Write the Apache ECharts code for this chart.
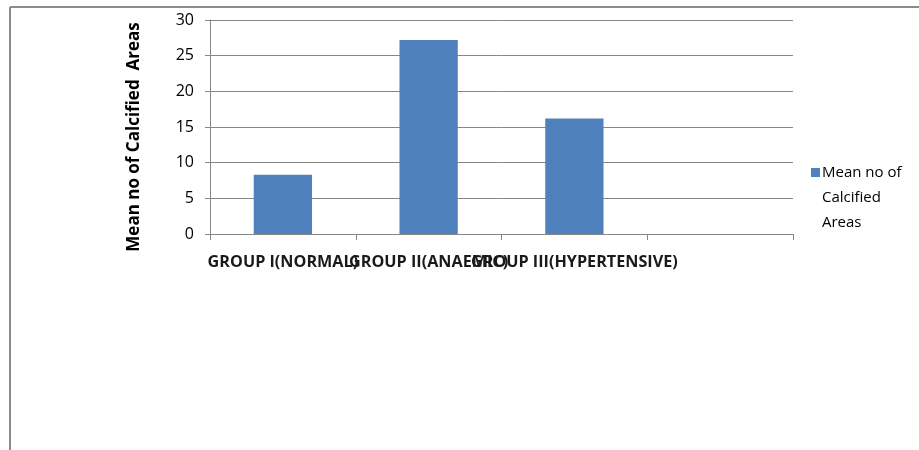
<!DOCTYPE html>
<html>
<head>
<meta charset="utf-8">
<script src="https://cdn.jsdelivr.net/npm/echarts@6/dist/echarts.min.js"></script>
<style>
html,body{margin:0;padding:0;background:#fff;}
#c{width:919px;height:450px;}
</style>
</head>
<body>
<div id="c"></div>
<script>
const categories = ['GROUP I(NORMAL)', 'GROUP II(ANAEMIC)', 'GROUP III(HYPERTENSIVE)', ''];
const seriesName = 'Mean no of Calcified Areas';
const values = [8.3, 27.2, 16.2, null];
const yTicks = [0, 5, 10, 15, 20, 25, 30];

const FONT = '"Open Sans", "Liberation Sans", sans-serif';
const chart = echarts.init(document.getElementById('c'));
chart.setOption({
  backgroundColor: '#fff',
  animation: false,
  graphic: [
    {type: 'line', shape: {x1: 10, y1: 7, x2: 919, y2: 7}, style: {stroke: '#8c8c8c', lineWidth: 2}, silent: true},
    {type: 'line', shape: {x1: 10, y1: 7, x2: 10, y2: 450}, style: {stroke: '#8c8c8c', lineWidth: 2}, silent: true}
  ],
  grid: {left: 210, right: 126, top: 20, bottom: 216, containLabel: false},
  legend: {
    orient: 'vertical',
    left: 806,
    top: 105,
    itemWidth: 9,
    itemHeight: 9,
    itemGap: 0,
    icon: 'rect',
    formatter: function (n) { return ' \n \n' + n.replace(' of ', ' of\n').replace('Calcified ', 'Calcified\n'); },
    textStyle: {fontFamily: FONT, fontSize: 15, color: '#000', lineHeight: 25, padding: [0, 0, 0, -3]},
    data: [seriesName]
  },
  xAxis: {
    type: 'category',
    data: categories,
    axisLine: {lineStyle: {color: '#868686', width: 1}},
    axisTick: {show: true, length: 6, alignWithLabel: false, lineStyle: {color: '#868686'}},
    axisLabel: {interval: 0, margin: 20, fontFamily: FONT, fontWeight: 'bold', fontSize: 16.2, color: '#1a1a1a', hideOverlap: false},
    splitLine: {show: false}
  },
  yAxis: {
    type: 'value',
    min: 0, max: 30, interval: 5,
    name: seriesName.replace('Calcified ', 'Calcified  '),
    nameLocation: 'middle',
    nameGap: 67,
    nameTextStyle: {fontFamily: FONT, fontWeight: 'bold', fontSize: 17, color: '#000', padding: [0, 20, 0, 0]},
    axisLine: {show: true, lineStyle: {color: '#868686'}},
    axisTick: {show: true, length: 5, lineStyle: {color: '#868686'}},
    axisLabel: {margin: 16, fontFamily: FONT, fontSize: 16, color: '#000',
      formatter: function (v) { return yTicks.indexOf(v) >= 0 ? String(v) : ''; }},
    splitLine: {lineStyle: {color: '#868686', width: 1}}
  },
  series: [{
    name: seriesName,
    type: 'bar',
    data: values,
    barWidth: '40%',
    itemStyle: {color: '#4F81BD'}
  }]
});
</script>
</body>
</html>
